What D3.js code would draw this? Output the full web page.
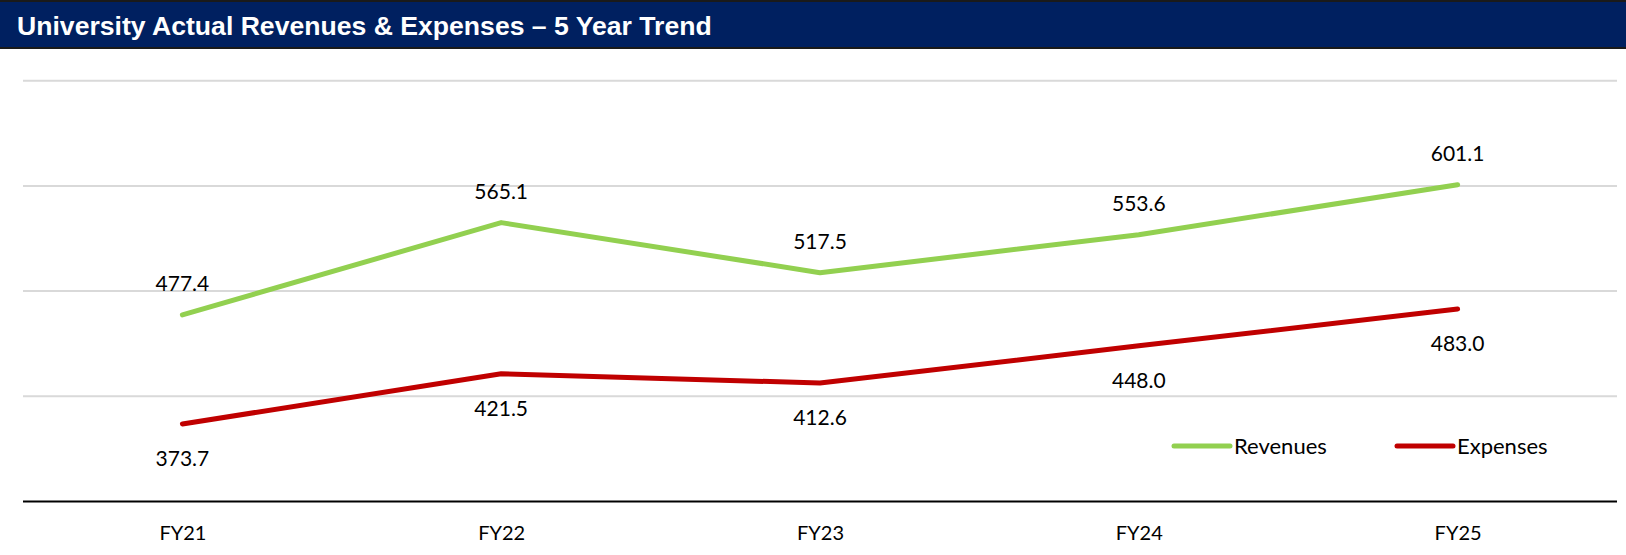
<!DOCTYPE html>
<html>
<head>
<meta charset="utf-8">
<script src="https://cdn.jsdelivr.net/npm/d3@7"></script>
<style>
    body{margin:0;background:#fff;}
    .title{font-family:"Liberation Sans",Arial,sans-serif;font-weight:bold;font-size:26.6px;fill:#fff;}
    .lbl{font-family:Lato,"Open Sans",sans-serif;font-size:21px;fill:#000;}
    .xaxis text{font-family:Lato,"Open Sans",sans-serif;font-size:20px;fill:#000;}
    .legend text{font-family:Lato,"Open Sans",sans-serif;font-size:22px;fill:#000;}
</style>
</head>
<body>
<svg id="chart" width="1626" height="555"></svg>
<script>
var years=["FY21","FY22","FY23","FY24","FY25"];
var revenues=[477.4,565.1,517.5,553.6,601.1];
var expenses=[373.7,421.5,412.6,448.0,483.0];
var gridTicks=[400,500,600,700];
var seriesNames=["Revenues","Expenses"];
var seriesColors=["#92D050","#C00000"];

var svg=d3.select('#chart');
var width=1626;

// header band
svg.append('rect')
    .attr('x',0)
    .attr('y',0)
    .attr('width',width)
    .attr('height',49)
    .attr('fill','#002060');
svg.append('line')
    .attr('x1',0).attr('x2',width)
    .attr('y1',1).attr('y2',1)
    .attr('stroke','#1a1a1a').attr('stroke-width',2);
svg.append('line')
    .attr('x1',0).attr('x2',width)
    .attr('y1',48).attr('y2',48)
    .attr('stroke','#1a1a1a').attr('stroke-width',2);
svg.append('text')
    .attr('class','title')
    .attr('x',17)
    .attr('y',35)
    .text("University Actual Revenues & Expenses \u2013 5 Year Trend");

var x=d3.scalePoint()
    .domain(years)
    .range([23,1617])
    .padding(0.5);
var y=d3.scaleLinear()
    .domain([300,700])
    .range([501.5,80.7]);

// gridlines
svg.append('g')
    .attr('class','grid')
    .selectAll('line').data(gridTicks)
    .enter().append('line')
        .attr('x1',23)
        .attr('x2',1617)
        .attr('y1',function(d){return y(d);})
        .attr('y2',function(d){return y(d);})
        .attr('stroke','#D9D9D9')
        .attr('stroke-width',2);

// category axis
var xAxis=svg.append('g')
    .attr('class','xaxis')
    .attr('transform','translate(0,'+y(300)+')')
    .call(d3.axisBottom(x).tickSize(0).tickSizeOuter(0).tickPadding(24));
xAxis.select('.domain')
    .attr('d','M23,0H1617')
    .attr('stroke','#000')
    .attr('stroke-width',2);
xAxis.selectAll('text').attr('font-family',null).attr('font-size',null);

var line=d3.line()
    .x(function(d,i){return x(years[i]);})
    .y(function(d){return y(d);});

var allSeries=[revenues,expenses];
svg.selectAll('path.series').data(allSeries)
    .enter().append('path')
        .attr('class','series')
        .attr('d',line)
        .attr('fill','none')
        .attr('stroke',function(d,i){return seriesColors[i];})
        .attr('stroke-width',5)
        .attr('stroke-linecap','round')
        .attr('stroke-linejoin','round');

// data labels: revenues above, expenses below
svg.selectAll('text.rev').data(revenues)
    .enter().append('text')
        .attr('class','lbl rev')
        .attr('text-anchor','middle')
        .attr('x',function(d,i){return x(years[i]);})
        .attr('y',function(d){return y(d)-24;})
        .text(function(d){return d.toFixed(1);});
svg.selectAll('text.exp').data(expenses)
    .enter().append('text')
        .attr('class','lbl exp')
        .attr('text-anchor','middle')
        .attr('x',function(d,i){return x(years[i]);})
        .attr('y',function(d){return y(d)+42;})
        .text(function(d){return d.toFixed(1);});

// legend
var legendX=[1174,1397];
var legend=svg.append('g').attr('class','legend');
var item=legend.selectAll('g').data(seriesNames)
    .enter().append('g')
        .attr('transform',function(d,i){return 'translate('+legendX[i]+',446)';});
item.append('line')
    .attr('x1',0).attr('x2',56)
    .attr('y1',0).attr('y2',0)
    .attr('stroke',function(d,i){return seriesColors[i];})
    .attr('stroke-width',5)
    .attr('stroke-linecap','round');
item.append('text')
    .attr('x',60)
    .attr('y',7.5)
    .text(function(d){return d;});
</script>
</body>
</html>
